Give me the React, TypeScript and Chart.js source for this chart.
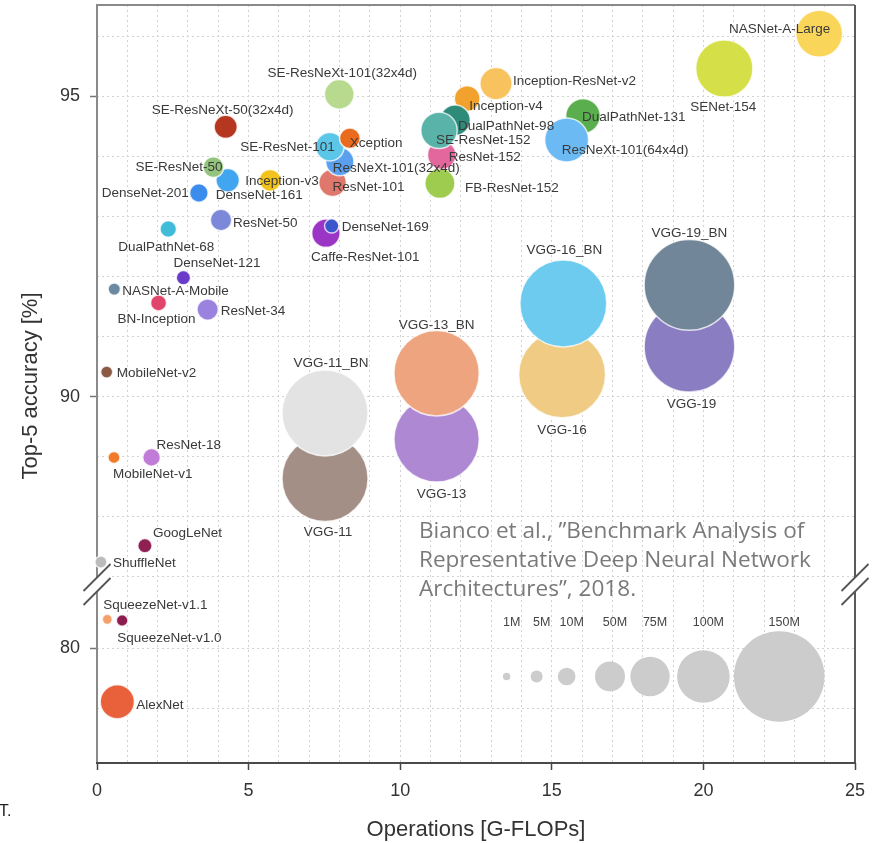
import React, { useEffect, useRef } from "react";
import { Chart, registerables } from "chart.js";

Chart.register(...registerables);

// ---------------- data ----------------
const NAMES = [
  "VGG-11", "VGG-11_BN", "VGG-13", "VGG-13_BN", "VGG-16", "VGG-16_BN", "VGG-19", "VGG-19_BN",
  "NASNet-A-Large", "SENet-154", "DualPathNet-131", "ResNeXt-101(64x4d)", "Inception-ResNet-v2",
  "Inception-v4", "DualPathNet-98", "FB-ResNet-152", "ResNet-152", "SE-ResNet-152",
  "SE-ResNeXt-101(32x4d)", "ResNet-101", "ResNeXt-101(32x4d)", "SE-ResNet-101", "Xception",
  "Caffe-ResNet-101", "DenseNet-169", "SE-ResNeXt-50(32x4d)", "Inception-v3", "DenseNet-161",
  "SE-ResNet-50", "DenseNet-201", "ResNet-50", "DualPathNet-68", "DenseNet-121", "NASNet-A-Mobile",
  "BN-Inception", "ResNet-34", "MobileNet-v2", "MobileNet-v1", "ResNet-18", "GoogLeNet", "ShuffleNet",
  "SqueezeNet-v1.1", "SqueezeNet-v1.0", "AlexNet",
];
// operations [G-FLOPs]
const GFLOPS = [
  7.52, 7.52, 11.2, 11.2, 15.34, 15.38, 19.54, 19.54,
  23.82, 20.69, 16.03, 15.49, 13.16,
  12.21, 11.81, 11.31, 11.37, 11.28,
  7.99, 7.77, 8.01, 7.68, 8.34,
  7.55, 7.74, 4.245, 5.71, 4.31,
  3.84, 3.36, 4.09, 2.35, 2.85, 0.57,
  2.03, 3.65, 0.32, 0.56, 1.8, 1.58, 0.13,
  0.34, 0.83, 0.67,
];
// top-5 accuracy [%]
const TOP5 = [
  88.64, 89.73, 89.29, 90.39, 90.37, 91.55, 90.83, 91.86,
  96.04, 95.46, 94.67, 94.27, 95.21,
  94.96, 94.6, 93.55, 94.02, 94.43,
  95.03, 93.56, 93.91, 94.16, 94.3,
  92.72, 92.84, 94.49, 93.6, 93.6,
  93.82, 93.39, 92.94, 92.79, 91.98, 91.79,
  91.56, 91.45, 90.41, 88.99, 88.99, 87.52, 87.25,
  80.48, 80.46, 79.11,
];
// parameters [millions]
const PARAMS_M = [
  144, 144, 143, 143, 145, 145, 150, 150,
  88.9, 106, 62, 83.5, 55.8,
  36, 51, 50, 45, 66.8,
  48.9, 42, 44, 45, 20,
  44.5, 7, 27.6, 23.8, 28.7,
  20, 13, 22, 9, 7, 5.3,
  8.5, 21.8, 5, 5, 10, 7, 5,
  3.3, 4.6, 61,
];

// styles (kept apart from the values)
const COLORS = [
  "#a38f86", "#e3e3e3", "#ae88d2", "#eea47f", "#efcb84", "#6ccbee", "#8a7dc1", "#718698",
  "#f9d55a", "#d5e048", "#5aae4d", "#6cbaf3", "#f8c35e",
  "#f2a22c", "#2e8b7a", "#9dcc4f", "#e3679c", "#5ab3a9",
  "#b8da8f", "#e0776c", "#5ba0ef", "#5cc6e8", "#ea6a1e",
  "#9b35c6", "#3b55cc", "#b5371f", "#f4c21c", "#42a5f0",
  "#93c47d", "#3b8ced", "#7c88d8", "#40bcd8", "#6a3bc9", "#6b8aa2",
  "#e2456b", "#9a82df", "#8b5a45", "#f27b2a", "#c07cd6", "#8e2152", "#bbbbbb",
  "#f5a06c", "#8d1d4f", "#e9613a",
];
// label placement: [align, dx, dy] relative to the bubble centre
const LABEL_PLACE: [string, number, number][] = [
  ["c", 3, 54], ["c", 6, -50], ["c", 5, 55], ["c", 0, -48], ["c", 0, 56], ["c", 1, -53], ["c", 2, 57], ["c", 0, -52],
  ["r", 11, -4], ["c", -1, 39], ["l", -1, 1], ["l", -5, 10], ["l", 17, -2],
  ["l", 2, 8], ["l", 3, 6], ["l", 25, 5], ["l", 7, 2], ["l", -3, 10],
  ["c", 3, -21], ["l", 0, 5], ["l", -7, 7], ["r", 5, 1], ["l", 0, 5],
  ["l", -15, 24], ["l", 10, 1], ["c", -3, -17], ["l", -25, 1], ["l", -12, 15],
  ["r", 9, 0], ["r", -10, 0], ["l", 12, 3], ["c", -2, 18], ["l", -10, -14], ["l", 8, 2],
  ["c", -2, 16], ["l", 13, 2], ["l", 10, 1], ["l", -1, 17], ["l", 5, -12], ["l", 8, -12], ["l", 12, 1],
  ["l", -4, -14], ["l", -5, 18], ["l", 19, 4],
];

// bubble-size legend
const SIZE_LEGEND_LABELS = ["1M", "5M", "10M", "50M", "75M", "100M", "150M"];
const SIZE_LEGEND_M = [1, 5, 10, 50, 75, 100, 150];
const SIZE_LEGEND_X = [13.51, 14.5, 15.49, 16.92, 18.24, 20.0, 22.5];
const SIZE_LEGEND_Y = 79.53;
const SIZE_LEGEND_LABEL_Y = 80.43;

// size scale (parameters -> radius in px)
const SIZE_STOPS_M = [1, 5, 10, 50, 75, 100, 150];
const SIZE_STOPS_R = [3.7, 6, 8.8, 15, 19.7, 26.3, 45.3];

// axes
const X_TICK_LABELS = [0, 5, 10, 15, 20, 25];
const X_GRID = [0, 1, 2, 3, 4, 5, 6, 7, 8, 9, 10, 11, 12, 13, 14, 15, 16, 17, 18, 19, 20, 21, 22, 23, 24, 25];
const Y_UPPER_GRID = [87, 88, 89, 90, 91, 92, 93, 94, 95, 96];
const Y_UPPER_LABELS = [90, 95];
const Y_LOWER_GRID = [79, 80];
const Y_LOWER_LABELS = [80];
const UPPER_RANGE = [86.875, 96.517];
const LOWER_RANGE = [78.09, 81.06];

const CITATION = [
  "Bianco et al., \u201DBenchmark Analysis of",
  "Representative Deep Neural Network",
  "Architectures\u201D, 2018.",
];

const SANS = '"Liberation Sans", Arial, Helvetica, sans-serif';
const GRID = "#d2d2d2";

function radiusFor(m: number): number {
  const M = SIZE_STOPS_M, R = SIZE_STOPS_R;
  if (m <= M[0]) return R[0] * Math.sqrt(m / M[0]);
  for (let i = 1; i < M.length; i++) {
    if (m <= M[i]) return R[i - 1] + ((m - M[i - 1]) * (R[i] - R[i - 1])) / (M[i] - M[i - 1]);
  }
  const n = M.length - 1;
  return R[n] + ((m - M[n]) * (R[n] - R[n - 1])) / (M[n] - M[n - 1]);
}

const decorPlugin = {
  id: "decor",
  beforeDatasetsDraw(chart: any) {
    const { ctx, chartArea: a } = chart;
    ctx.save();
    ctx.lineWidth = 2;
    ctx.strokeStyle = "#8a8a8a";
    ctx.beginPath();
    ctx.moveTo(a.left, a.bottom);
    ctx.lineTo(a.left, a.top);
    ctx.lineTo(a.right, a.top);
    ctx.stroke();
    ctx.strokeStyle = "#5a5a5a";
    ctx.beginPath();
    ctx.moveTo(a.right, a.top);
    ctx.lineTo(a.right, a.bottom);
    ctx.stroke();
    ctx.strokeStyle = "#4a4a4a";
    ctx.beginPath();
    ctx.moveTo(a.left - 1, a.bottom);
    ctx.lineTo(a.right + 1, a.bottom);
    ctx.stroke();
    ctx.restore();
  },
  afterDatasetsDraw(chart: any) {
    const ctx = chart.ctx;
    ctx.save();
    ctx.font = `13.5px ${SANS}`;
    ctx.fillStyle = "#3a3a3a";
    ctx.textBaseline = "middle";
    chart.data.datasets.forEach((ds: any, di: number) => {
      const meta = chart.getDatasetMeta(di);
      meta.data.forEach((el: any, j: number) => {
        const raw = ds.data[j];
        if (!raw || raw.name === undefined) return;
        const [align, dx, dy] = raw.place;
        ctx.textAlign = align === "l" ? "left" : align === "r" ? "right" : "center";
        ctx.fillText(raw.name, el.x + dx, el.y + dy);
      });
    });
    const xs = chart.scales.x;
    const y2 = chart.scales.y2;
    ctx.font = `12.5px ${SANS}`;
    ctx.fillStyle = "#444";
    ctx.textAlign = "center";
    SIZE_LEGEND_LABELS.forEach((t, i) => {
      ctx.fillText(t, xs.getPixelForValue(SIZE_LEGEND_X[i]) + 5, y2.getPixelForValue(SIZE_LEGEND_LABEL_Y));
    });
    ctx.restore();
  },
  afterDraw(chart: any) {
    const { ctx, chartArea: a } = chart;
    ctx.save();
    // axis breaks
    const by = chart.scales.y.bottom;
    const h = 13.5, g = 7;
    for (const bx of [a.left, a.right]) {
      ctx.fillStyle = "#ffffff";
      ctx.beginPath();
      ctx.moveTo(bx - h, by - g + h);
      ctx.lineTo(bx + h, by - g - h);
      ctx.lineTo(bx + h, by + g - h);
      ctx.lineTo(bx - h, by + g + h);
      ctx.closePath();
      ctx.fill();
      ctx.strokeStyle = "#555";
      ctx.lineWidth = 1.8;
      ctx.beginPath();
      ctx.moveTo(bx - h, by - g + h);
      ctx.lineTo(bx + h, by - g - h);
      ctx.moveTo(bx - h, by + g + h);
      ctx.lineTo(bx + h, by + g - h);
      ctx.stroke();
    }
    // y title
    ctx.save();
    ctx.translate(31, (a.top + a.bottom) / 2 + 2);
    ctx.rotate(-Math.PI / 2);
    ctx.font = `22px ${SANS}`;
    ctx.fillStyle = "#333";
    ctx.textAlign = "center";
    ctx.textBaseline = "middle";
    ctx.fillText("Top-5 accuracy [%]", 0, 0);
    ctx.restore();
    // citation
    const citeFont = '"Open Sans", "Noto Sans", sans-serif';
    ctx.font = `20px ${citeFont}`;
    const w = ctx.measureText(CITATION[1]).width;
    const size = (20 * 392) / w;
    ctx.font = `${size}px ${citeFont}`;
    ctx.fillStyle = "#7a7a7a";
    ctx.textAlign = "left";
    ctx.textBaseline = "alphabetic";
    CITATION.forEach((line, i) => ctx.fillText(line, 419, 538 + i * 29));
    // stray glyph at the bottom-left edge
    ctx.font = `16px ${SANS}`;
    ctx.fillStyle = "#222";
    ctx.fillText("T.", -1, 816);
    ctx.restore();
  },
};

const fitY = (s: any) => {
  s.width = 97;
  s.paddingTop = 0;
  s.paddingBottom = 0;
};
const fitX = (s: any) => {
  s.height = 80;
  s.paddingLeft = 0;
  s.paddingRight = 0;
};

export default function App() {
  const ref = useRef<HTMLCanvasElement | null>(null);

  useEffect(() => {
    const canvas = ref.current;
    if (!canvas) return;
    const idx = NAMES.map((_, i) => i);
    const upper = idx.filter((i) => TOP5[i] >= UPPER_RANGE[0]);
    const lower = idx.filter((i) => TOP5[i] < UPPER_RANGE[0]);
    const mk = (i: number) => ({
      x: GFLOPS[i],
      y: TOP5[i],
      r: radiusFor(PARAMS_M[i]),
      name: NAMES[i],
      place: LABEL_PLACE[i],
    });
    const edge = "rgba(255,255,255,0.75)";

    const tickFont = { family: SANS, size: 18 };
    const chart = new Chart(canvas, {
      type: "bubble",
      data: {
        datasets: [
          {
            label: "networks (upper)",
            data: upper.map(mk),
            backgroundColor: upper.map((i) => COLORS[i]),
            borderColor: edge,
            borderWidth: 1.5,
            xAxisID: "x",
            yAxisID: "y",
            clip: false,
          } as any,
          {
            label: "networks (lower)",
            data: lower.map(mk),
            backgroundColor: lower.map((i) => COLORS[i]),
            borderColor: edge,
            borderWidth: 1.5,
            xAxisID: "x",
            yAxisID: "y2",
            clip: false,
          } as any,
          {
            label: "size legend",
            data: SIZE_LEGEND_M.map((m, i) => ({ x: SIZE_LEGEND_X[i], y: SIZE_LEGEND_Y, r: radiusFor(m) })),
            backgroundColor: "#cccccc",
            borderWidth: 0,
            xAxisID: "x",
            yAxisID: "y2",
            clip: false,
          } as any,
        ],
      },
      options: {
        responsive: false,
        animation: false,
        events: [],
        layout: { autoPadding: false, padding: { left: 0, top: 5, right: 20, bottom: 0 } },
        plugins: { legend: { display: false }, tooltip: { enabled: false } },
        scales: {
          x: {
            type: "linear",
            min: 0,
            max: 25,
            afterBuildTicks: (s: any) => {
              s.ticks = X_GRID.map((v) => ({ value: v }));
            },
            afterFit: fitX,
            grid: {
              color: GRID,
              lineWidth: 1,
              tickLength: 7,
              tickWidth: 1.5,
              tickColor: (c: any) => (c.tick && X_TICK_LABELS.includes(c.tick.value) ? "#444" : "rgba(0,0,0,0)"),
            },
            border: { display: false, dash: [2, 3] },
            ticks: {
              autoSkip: false,
              maxRotation: 0,
              padding: 10,
              color: "#333",
              font: tickFont,
              callback: (v: any) => (X_TICK_LABELS.includes(v) ? String(v) : ""),
            },
            title: {
              display: true,
              text: "Operations [G-FLOPs]",
              color: "#333",
              font: { family: SANS, size: 22 },
              padding: { top: 0, bottom: 0 },
            },
          },
          y: {
            type: "linear",
            position: "left",
            stack: "acc",
            stackWeight: UPPER_RANGE[1] - UPPER_RANGE[0],
            weight: 1,
            min: UPPER_RANGE[0],
            max: UPPER_RANGE[1],
            afterBuildTicks: (s: any) => {
              s.ticks = Y_UPPER_GRID.map((v) => ({ value: v }));
            },
            afterFit: fitY,
            grid: {
              color: GRID,
              lineWidth: 1,
              tickLength: 7,
              tickWidth: 1.5,
              tickColor: (c: any) => (c.tick && Y_UPPER_LABELS.includes(c.tick.value) ? "#777" : "rgba(0,0,0,0)"),
            },
            border: { display: false, dash: [2, 3] },
            ticks: {
              autoSkip: false,
              padding: 10,
              color: "#333",
              font: tickFont,
              callback: (v: any) => (Y_UPPER_LABELS.includes(v) ? String(v) : ""),
            },
          },
          y2: {
            type: "linear",
            position: "left",
            stack: "acc",
            stackWeight: LOWER_RANGE[1] - LOWER_RANGE[0],
            weight: 0,
            min: LOWER_RANGE[0],
            max: LOWER_RANGE[1],
            afterBuildTicks: (s: any) => {
              s.ticks = Y_LOWER_GRID.map((v) => ({ value: v }));
            },
            afterFit: fitY,
            grid: {
              color: GRID,
              lineWidth: 1,
              tickLength: 7,
              tickWidth: 1.5,
              tickColor: (c: any) => (c.tick && Y_LOWER_LABELS.includes(c.tick.value) ? "#777" : "rgba(0,0,0,0)"),
            },
            border: { display: false, dash: [2, 3] },
            ticks: {
              autoSkip: false,
              padding: 10,
              color: "#333",
              font: tickFont,
              callback: (v: any) => (Y_LOWER_LABELS.includes(v) ? String(v) : ""),
            },
          },
        },
      } as any,
      plugins: [decorPlugin],
    });
    return () => chart.destroy();
  }, []);

  return (
    <div style={{ position: "absolute", left: 0, top: 0, width: 875, height: 843, background: "#ffffff" }}>
      <canvas ref={ref} width={875} height={843} style={{ display: "block" }} />
    </div>
  );
}
